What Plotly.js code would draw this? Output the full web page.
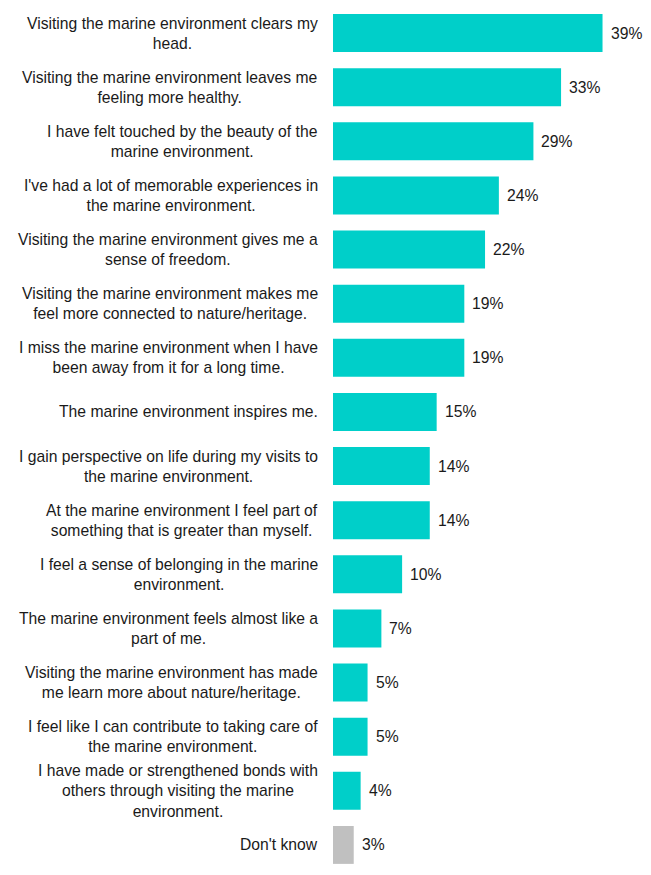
<!DOCTYPE html>
<html>
<head>
<meta charset="utf-8">
<script src="https://cdn.plot.ly/plotly-3.0.1.min.js"></script>
<style>
  html, body { margin: 0; padding: 0; background: #fff; }
  #chart { width: 651px; height: 875px; }
</style>
</head>
<body>
<div id="chart"></div>
<script>
// statements, top to bottom
let labels = [
  "Visiting the marine environment clears my<br>head.",
  "Visiting the marine environment leaves me<br>feeling more healthy.",
  "I have felt touched by the beauty of the<br>marine environment.",
  "I've had a lot of memorable experiences in<br>the marine environment.",
  "Visiting the marine environment gives me a<br>sense of freedom.",
  "Visiting the marine environment makes me<br>feel more connected to nature/heritage.",
  "I miss the marine environment when I have<br>been away from it for a long time.",
  "The marine environment inspires me.",
  "I gain perspective on life during my visits to<br>the marine environment.",
  "At the marine environment I feel part of<br>something that is greater than myself.",
  "I feel a sense of belonging in the marine<br>environment.",
  "The marine environment feels almost like a<br>part of me.",
  "Visiting the marine environment has made<br>me learn more about nature/heritage.",
  "I feel like I can contribute to taking care of<br>the marine environment.",
  "I have made or strengthened bonds with<br>others through visiting the marine<br>environment.",
  "Don't know"
]
let values = [39, 33, 29, 24, 22, 19, 19, 15, 14, 14, 10, 7, 5, 5, 4, 3]

let teal = "#00CFC9"
let grey = "#C0C0C0"
let colors = labels.map(l => l == "Don't know" ? grey : teal)

let font = "Liberation Sans, Arial, sans-serif"

let data = [{
  type: "bar",
  orientation: "h",
  x: values,
  y: labels,
  marker: {color: colors},
  hoverinfo: "none"
}]

let annotations = []
for (let i = 0; i < labels.length; i++) {
  // category label, centred lines
  annotations.push({
    xref: "x", yref: "y",
    x: 0, y: labels[i],
    text: labels[i],
    xanchor: "right", yanchor: "middle",
    align: "center",
    xshift: -13,
    showarrow: false,
    font: {family: font, size: 15.7, color: "#1a1a1a"}
  })
  // value label
  annotations.push({
    xref: "x", yref: "y",
    x: values[i], y: labels[i],
    text: values[i] + "%",
    xanchor: "left", yanchor: "middle",
    xshift: 6,
    showarrow: false,
    font: {family: font, size: 15.7, color: "#1a1a1a"}
  })
}

let layout = {
  width: 651,
  height: 875,
  margin: {l: 333, r: 7, t: 6, b: 3},
  paper_bgcolor: "#fff",
  plot_bgcolor: "#fff",
  bargap: 0.3,
  showlegend: false,
  xaxis: {range: [0, 45], visible: false, fixedrange: true},
  yaxis: {autorange: "reversed", showticklabels: false, showgrid: false,
          zeroline: false, showline: false, ticks: "", fixedrange: true},
  annotations: annotations
}

Plotly.newPlot("chart", data, layout, {staticPlot: true})
</script>
</body>
</html>
